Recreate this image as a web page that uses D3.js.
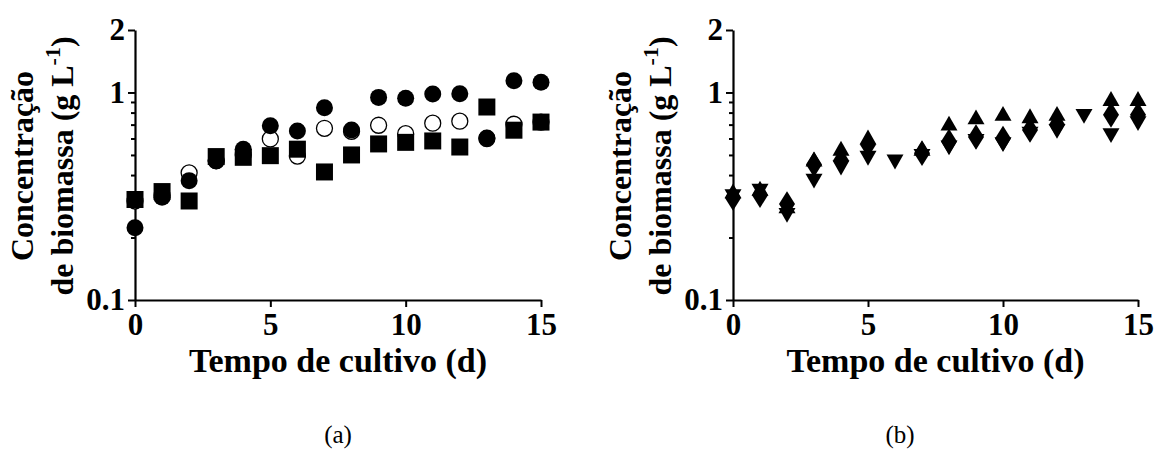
<!DOCTYPE html>
<html>
<head>
<meta charset="utf-8">
<script src="https://cdn.jsdelivr.net/npm/d3@7"></script>
<style>
  html, body { margin: 0; padding: 0; background: #fff; }
  svg text { font-family: "Liberation Serif", "Times New Roman", serif; }
</style>
</head>
<body>
<svg id="chart" width="1157" height="451"></svg>
<script>
// Cultivation time (days)
const days = [0, 1, 2, 3, 4, 5, 6, 7, 8, 9, 10, 11, 12, 13, 14, 15];

// Panel (a): biomass concentration (g/L)
const aFilledCircle = [0.223, 0.313, 0.376, 0.468, 0.533, 0.692, 0.652, 0.845, 0.66, 0.947, 0.938, 0.984, 0.987, 0.604, 1.14, 1.12];
const aOpenCircle   = [0.30, 0.32, 0.41, 0.47, 0.50, 0.597, 0.494, 0.672, 0.65, 0.695, 0.633, 0.711, 0.727, 0.60, 0.703, 0.72];
const aSquare       = [0.305, 0.333, 0.30, 0.491, 0.487, 0.496, 0.533, 0.414, 0.50, 0.565, 0.575, 0.584, 0.546, 0.851, 0.658, 0.72];

// Panel (b): biomass concentration (g/L)
const bTriangleUp   = [0.33, 0.34, 0.28, 0.47, 0.53, 0.60, null, 0.53, 0.70, 0.75, 0.78, 0.76, 0.78, null, 0.92, 0.92];
const bDiamond      = [0.31, 0.32, 0.29, 0.45, 0.47, 0.56, null, 0.51, 0.58, 0.61, 0.60, 0.66, 0.70, null, 0.78, 0.78];
const bTriangleDown = [0.32, 0.34, 0.26, 0.38, 0.44, 0.49, 0.47, 0.50, 0.55, 0.59, 0.57, 0.64, 0.66, 0.78, 0.63, 0.72];

// Axis ticks
const xTicks = [0, 5, 10, 15];
const yMajorTicks = [0.1, 1, 2];
const yMinorTicks = [0.2, 0.3, 0.4, 0.5, 0.6, 0.7, 0.8, 0.9];

const svg = d3.select("#chart");

// Custom marker shapes (size = half-width in px)
const shapes = {
  circle: {draw(ctx, r) { ctx.moveTo(r, 0); ctx.arc(0, 0, r, 0, 2 * Math.PI); }},
  square: {draw(ctx, r) { ctx.rect(-r, -r, 2 * r, 2 * r); }},
  triUp: {draw(ctx, r) { const h = r * 1.75; ctx.moveTo(0, -h * 0.6); ctx.lineTo(r, h * 0.4); ctx.lineTo(-r, h * 0.4); ctx.closePath(); }},
  triDown: {draw(ctx, r) { const h = r * 1.75; ctx.moveTo(0, h * 0.6); ctx.lineTo(r, -h * 0.4); ctx.lineTo(-r, -h * 0.4); ctx.closePath(); }},
  diamond: {draw(ctx, r) { ctx.moveTo(0, -r * 1.6); ctx.lineTo(r, 0); ctx.lineTo(0, r * 1.6); ctx.lineTo(-r, 0); ctx.closePath(); }}
};

function drawPanel(cfg) {
  const x = d3.scaleLinear().domain([0, 15]).range([cfg.x0, cfg.x1]);
  const y = d3.scaleLog().domain([0.1, 2]).range([300, 30]);
  const g = svg.append("g");

  // x axis
  g.append("g")
    .attr("transform", `translate(0,${y(0.1)})`)
    .call(d3.axisBottom(x).tickValues(xTicks).tickSize(7).tickPadding(6).tickSizeOuter(0));
  // y axis major
  g.append("g")
    .attr("transform", `translate(${x(0)},0)`)
    .call(d3.axisLeft(y).tickValues(yMajorTicks).tickFormat(d3.format("")).tickSize(7).tickPadding(3).tickSizeOuter(0));
  // y axis minor
  g.append("g")
    .attr("transform", `translate(${x(0)},0)`)
    .call(d3.axisLeft(y).tickValues(yMinorTicks).tickFormat("").tickSize(4).tickSizeOuter(0))
    .select(".domain").remove();

  g.selectAll(".domain").attr("stroke", "#000").attr("stroke-width", 2.2);
  g.selectAll(".tick line").attr("stroke", "#000").attr("stroke-width", 2);
  g.selectAll(".tick text")
    .attr("fill", "#000")
    .style("font-family", "'Liberation Serif', serif")
    .style("font-weight", "bold")
    .style("font-size", "31px");

  // series
  cfg.series.forEach(s => {
    const pts = days.map((d, i) => ({d, v: s.values[i]})).filter(p => p.v != null);
    g.append("g").selectAll("path")
      .data(pts)
      .join("path")
      .attr("transform", p => `translate(${x(p.d)},${y(p.v)})`)
      .attr("d", d3.symbol().type(shapes[s.shape]).size(s.r))
      .attr("fill", s.fill)
      .attr("stroke", "#000")
      .attr("stroke-width", s.stroke);
  });

  // axis titles
  const cx = (cfg.x0 + cfg.x1) / 2;
  g.append("text")
    .attr("x", cx).attr("y", 372)
    .attr("text-anchor", "middle")
    .style("font-weight", "bold").style("font-size", "34px")
    .text("Tempo de cultivo (d)");

  const yl = g.append("text")
    .attr("transform", `translate(${cfg.x0 - 102},166) rotate(-90)`)
    .attr("text-anchor", "middle")
    .style("font-weight", "bold").style("font-size", "32px");
  yl.append("tspan").attr("x", 0).attr("dy", 0).text("Concentração");
  yl.append("tspan").attr("x", 0).attr("dy", 40).text("de biomassa (g L");
  yl.append("tspan").attr("dy", -13).style("font-size", "22px").text("-1");
  yl.append("tspan").attr("dy", 13).text(")");

  g.append("text")
    .attr("x", cfg.labelX).attr("y", 443)
    .attr("text-anchor", "middle")
    .style("font-size", "25px")
    .text(cfg.label);
}

drawPanel({
  x0: 135, x1: 541, label: "(a)", labelX: 338,
  series: [
    {values: aOpenCircle, shape: "circle", r: 8, fill: "#fff", stroke: 1.3},
    {values: aFilledCircle, shape: "circle", r: 8.5, fill: "#000", stroke: 0},
    {values: aSquare, shape: "square", r: 8.5, fill: "#000", stroke: 0}
  ]
});

drawPanel({
  x0: 733, x1: 1138, label: "(b)", labelX: 900,
  series: [
    {values: bTriangleUp, shape: "triUp", r: 8.5, fill: "#000", stroke: 0},
    {values: bDiamond, shape: "diamond", r: 8, fill: "#000", stroke: 0},
    {values: bTriangleDown, shape: "triDown", r: 8.5, fill: "#000", stroke: 0}
  ]
});
</script>
</body>
</html>
